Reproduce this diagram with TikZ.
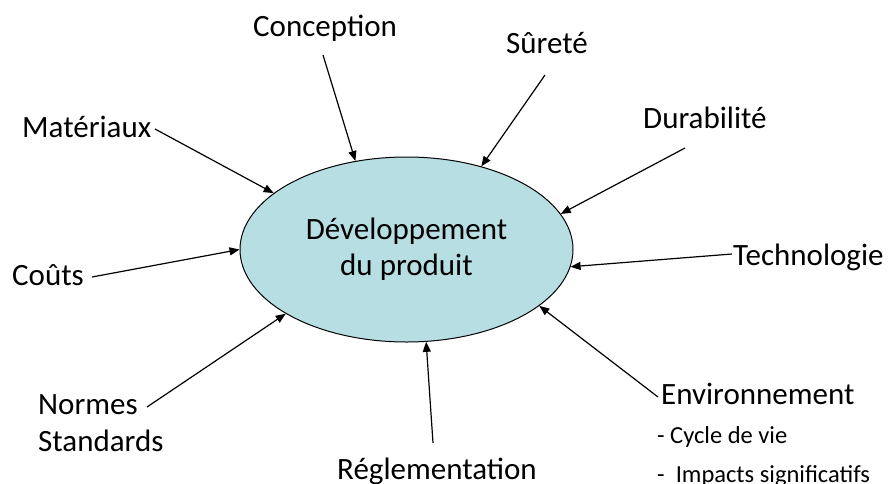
\documentclass[tikz,border=0pt]{standalone}
\usepackage{fontspec}
\setmainfont{Carlito}
\usetikzlibrary{arrows.meta,shapes.geometric}
\definecolor{devblue}{RGB}{183,222,226}

\begin{document}
\begin{tikzpicture}[
    x=1pt, y=-1pt,
    factor/.style={anchor=base west, inner sep=0pt, align=left, font=\fontsize{31}{37}\selectfont},
    sublist/.style={anchor=base west, inner sep=0pt, align=left, font=\fontsize{24.5}{39}\selectfont},
    arr/.style={-{Triangle[length=10pt,width=8pt]}, line width=1.2pt}
]
    \useasboundingbox (0,0) rectangle (889,483);

    \node[ellipse, draw, line width=1pt, fill=devblue, minimum width=333pt, minimum height=185pt,
          align=center, font=\fontsize{31}{36}\selectfont] (dev) at (406.5,249.5) {Développement\\du produit};

    \node[factor] (conc) at (253,36) {Conception};
    \node[factor] (sur) at (506,53) {Sûreté};
    \node[factor] (mat) at (22,137) {Matériaux};
    \node[factor] (dur) at (643,128) {Durabilité};
    \node[factor] (tech) at (733,265) {Technologie};
    \node[factor] (cout) at (12,285) {Coûts};
    \node[factor] (norm) at (38,451) {Normes\\Standards};
    \node[factor] (regl) at (337,479) {Réglementation};
    \node[factor] (env) at (661,404) {Environnement};
    \node[sublist] (envlist) at (657,482) {- Cycle de vie\\-\ \ Impacts significatifs};

    \draw[arr] ([shift={(70,19)}]conc.base west) -- (dev.120.7);
    \draw[arr] ([shift={(39,22)}]sur.base west) -- (dev.48.6);
    \draw[arr] ([shift={(133,-8)}]mat.base west) -- (dev.157.9);
    \draw[arr] ([shift={(42,20)}]dur.base west) -- (dev.13.6);
    \draw[arr] ([shift={(-1,-11)}]tech.base west) -- (dev.-6.3);
    \draw[arr] ([shift={(80,-8)}]cout.base west) -- (dev.180);
    \draw[arr] ([shift={(109,-44)}]norm.base west) -- (dev.208.3);
    \draw[arr] ([shift={(96,-36)}]regl.base west) -- (dev.-78.8);
    \draw[arr] ([shift={(-3,-7)}]env.base west) -- (dev.-23.6);
\end{tikzpicture}
\end{document}
